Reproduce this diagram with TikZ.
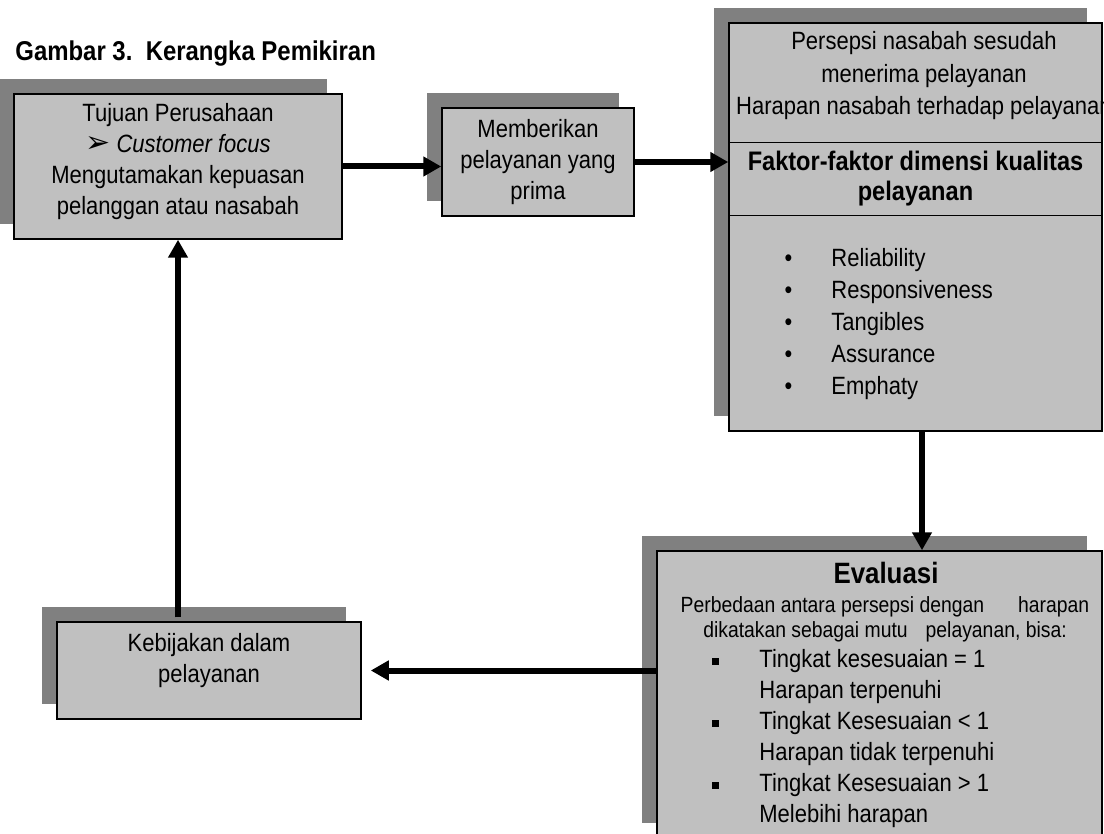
\documentclass[tikz,border=0pt]{standalone}
\usepackage{fontspec}
\setmainfont{Liberation Sans}[FakeStretch=0.88]
\newfontfamily\dejavu{DejaVu Sans}
\usetikzlibrary{arrows.meta, shadows}
\definecolor{isi}{HTML}{C0C0C0}
\definecolor{bayang}{HTML}{808080}
\newcommand\kotak{\rule[1.6pt]{3.5pt}{3.5pt}}
\tikzset{
  huruf/.style = {font = \fontsize{12.5}{15.5}\selectfont},
  blok/.style = {draw, line width = .75pt, fill = isi, inner sep = 0pt, align = center, huruf,
    drop shadow = {shadow xshift = -7.5pt, shadow yshift = 7.5pt, fill = bayang, opacity = 1}},
  teks/.style = {inner sep = 0pt, huruf},
  panah/.style = {line width = 3pt, -{Triangle[length = 9pt, width = 9.5pt]}}
}
\begin{document}
\begin{tikzpicture}[x = .5pt, y = -.5pt]
\useasboundingbox (0,0) rectangle (1104,834);
\clip (0,0) rectangle (1104,834);
\node[anchor = base west, inner sep = 0pt, font = \fontsize{13.6}{15}\selectfont\bfseries] (judul) at (15,61) {Gambar 3.\ \ Kerangka Pemikiran};
\node[blok, minimum width = 164pt, minimum height = 72.5pt, text depth = 8pt] (tujuan) at (178,166.5)
  {Tujuan Perusahaan\\{\dejavu\fontsize{15}{15}\selectfont ➢} \textit{Customer focus}\\Mengutamakan kepuasan\\pelanggan atau nasabah};
\node[blok, minimum width = 96pt, minimum height = 54pt] (beri) at (538,162) {Memberikan\\pelayanan yang\\prima};
\node[blok, minimum width = 186.5pt, minimum height = 204pt] (faktor) at (915.5,227) {};
\node[teks, align = center, font = \fontsize{12.5}{16.25}\selectfont] (persepsi) at (924,76)
  {Persepsi nasabah sesudah\\menerima pelayanan\\Harapan nasabah terhadap pelayanan};
\node[inner sep = 0pt, minimum width = 186.5pt, minimum height = 36pt, align = center, font = \fontsize{13.4}{15}\selectfont\bfseries] (dimensi) at (915.5,179)
  {Faktor-faktor dimensi kualitas\\pelayanan};
\draw[line width = .75pt] (dimensi.north west) -- (dimensi.north east) (dimensi.south west) -- (dimensi.south east);
\node[teks, anchor = west, align = left, font = \fontsize{12.5}{16}\selectfont] (dimensidaftar) at (745,324)
  {\makebox[43pt]{\textbullet}Reliability\\\makebox[43pt]{\textbullet}Responsiveness\\\makebox[43pt]{\textbullet}Tangibles\\
   \makebox[43pt]{\textbullet}Assurance\\\makebox[43pt]{\textbullet}Emphaty};
\node[blok, minimum width = 152pt, minimum height = 48.5pt, text depth = 12.6pt] (kebijakan) at (209,670.5) {Kebijakan dalam\\pelayanan};
\node[blok, minimum width = 222.5pt, minimum height = 143.5pt] (evaluasi) at (879.5,694.5) {};
\node[inner sep = 0pt, font = \fontsize{14.7}{16}\selectfont\bfseries] (evaljudul) at (886,573) {Evaluasi};
\node[inner sep = 0pt, align = center, font = \fontsize{11}{12.5}\selectfont] (evalket) at (885,619.5)
  {Perbedaan antara persepsi dengan\hspace{17pt}harapan\\dikatakan sebagai mutu\hspace{9pt}pelayanan, bisa:};
\node[teks, anchor = west, align = left] (evaldaftar) at (671,739)
  {\makebox[44pt]{\kotak}Tingkat kesesuaian = 1\\\hspace*{44pt}Harapan terpenuhi\\
   \makebox[44pt]{\kotak}Tingkat Kesesuaian < 1\\\hspace*{44pt}Harapan tidak terpenuhi\\
   \makebox[44pt]{\kotak}Tingkat Kesesuaian > 1\\\hspace*{44pt}Melebihi harapan};
\draw[panah] (tujuan.east) -- (tujuan.east -| beri.west);
\draw[panah] (beri.east) -- (beri.east -| faktor.west);
\draw[panah] ([xshift = 3.25pt]faktor.south) -- ([xshift = 3.25pt]faktor.south |- evaluasi.north);
\draw[panah] (kebijakan.east -| evaluasi.west) -- ([xshift = 4.5pt]kebijakan.east);
\draw[panah] ([yshift = 2pt]kebijakan.north -| tujuan.south) -- (tujuan.south);
\end{tikzpicture}
\end{document}
